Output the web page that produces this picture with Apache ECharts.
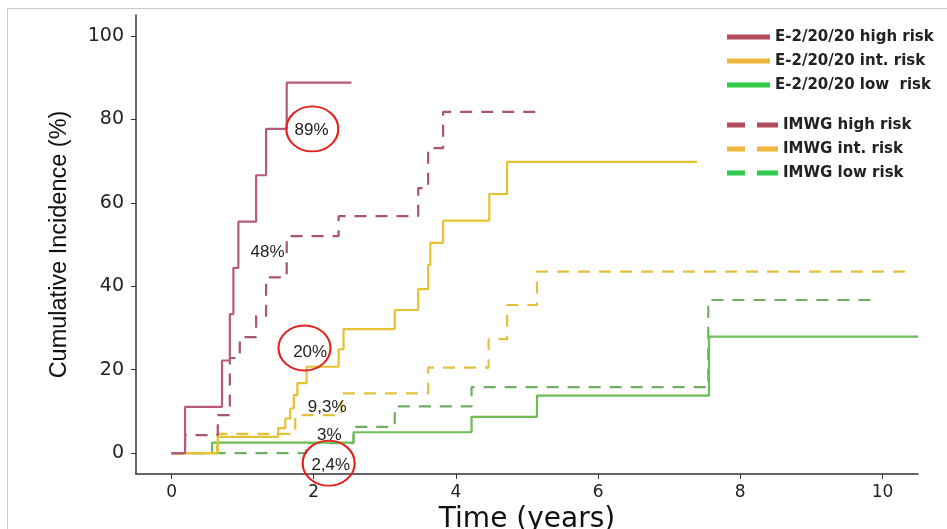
<!DOCTYPE html>
<html><head><meta charset="utf-8">
<script src="https://cdn.jsdelivr.net/npm/echarts@6/dist/echarts.min.js"></script>
<style>html,body{margin:0;padding:0;background:#fff}#c{width:947px;height:529px}</style>
</head><body><div id="c"></div>
<script>
// Axis ticks
const xTicks = [0, 2, 4, 6, 8, 10];
const yTicks = [0, 20, 40, 60, 80, 100];

// Series names
const legendE = ['E-2/20/20 high risk', 'E-2/20/20 int. risk', 'E-2/20/20 low  risk'];
const legendI = ['IMWG high risk', 'IMWG int. risk', 'IMWG low risk'];

// E-2/20/20 high risk (time in years, cumulative incidence %)
const eHighT = [0, 0.19, 0.71, 0.82, 0.87, 0.94, 1.19, 1.33, 1.62, 2.53];
const eHighV = [0, 11.1, 22.2, 33.3, 44.4, 55.5, 66.6, 77.7, 88.8, 88.8];
// IMWG high risk
const iHighT = [0, 0.19, 0.65, 0.82, 0.96, 1.19, 1.33, 1.62, 2.35, 3.47, 3.61, 3.82, 5.14];
const iHighV = [0, 4.3, 9.1, 22.8, 27.8, 32.9, 42.1, 52.0, 56.8, 63.5, 73.1, 81.8, 81.8];
// E-2/20/20 int. risk
const eIntT = [0, 0.65, 1.50, 1.60, 1.67, 1.72, 1.77, 1.90, 2.35, 2.42, 3.14, 3.47, 3.61, 3.64, 3.82, 4.47, 4.72, 7.39];
const eIntV = [0, 3.9, 6.0, 8.3, 10.7, 13.9, 16.8, 20.7, 24.9, 29.7, 34.3, 39.3, 45.1, 50.4, 55.7, 62.1, 69.8, 69.8];
// IMWG int. risk
const iIntT = [0, 0.64, 1.74, 2.39, 3.61, 4.46, 4.72, 5.14, 10.43];
const iIntV = [0, 4.6, 9.1, 14.3, 20.5, 27.3, 35.5, 43.5, 43.5];
// E-2/20/20 low risk
const eLowT = [0, 0.57, 2.56, 4.22, 5.14, 7.56, 10.5];
const eLowV = [0, 2.5, 5.0, 8.7, 13.8, 27.9, 27.9];
// IMWG low risk
const iLowT = [0, 1.89, 2.56, 3.14, 4.22, 7.55, 9.85];
const iLowV = [0, 2.4, 6.3, 11.2, 15.8, 36.7, 36.7];

// Annotations (text at [t, v])
const annoText = ['89%', '48%', '20%', '9,3%', '3%', '2,4%'];
const annoT = [1.97, 1.35, 1.95, 2.19, 2.22, 2.24];
const annoV = [77.3, 48.2, 24.1, 11.1, 4.3, -2.8];
// Red ellipses around some annotations
const circleT = [1.98, 1.87, 2.21];
const circleV = [77.7, 25.2, -2.4];

const zip = (t, v) => t.map((x, i) => [x, v[i]]);

const colHigh = '#b85b78', colInt = '#e6c230', colLow = '#6cbd55';
const colHighD = '#a6566f', colIntD = '#e2c23c', colLowD = '#72ad64';
const dash = [12, 9];

function mkSeries(name, t, v, color, dashed) {
  return {
    type: 'line', name: name, step: 'end', data: zip(t, v),
    showSymbol: false, symbol: 'none',
    lineStyle: { color: color, width: 2.2, type: dashed ? dash : 'solid' },
    itemStyle: { color: color, borderWidth: 0 },
    emphasis: { disabled: true },
    animation: false
  };
}

const series = [
  mkSeries(legendI[2], iLowT, iLowV, colLowD, true),
  mkSeries(legendE[2], eLowT, eLowV, colLow, false),
  mkSeries(legendI[1], iIntT, iIntV, colIntD, true),
  mkSeries(legendE[1], eIntT, eIntV, colInt, false),
  mkSeries(legendI[0], iHighT, iHighV, colHighD, true),
  mkSeries(legendE[0], eHighT, eHighV, colHigh, false)
];

const mp = [];
circleT.forEach((t, i) => mp.push({
  coord: [t, circleV[i]], symbol: 'circle', symbolSize: [52, 45],
  itemStyle: { color: 'rgba(0,0,0,0)', borderColor: '#e2211c', borderWidth: 2 },
  label: { show: false }
}));
annoText.forEach((s, i) => mp.push({
  coord: [annoT[i], annoV[i]], symbol: 'circle', symbolSize: 1,
  itemStyle: { color: 'rgba(0,0,0,0)' },
  label: { show: true, position: 'inside', formatter: s, color: '#1e1e1e',
    fontSize: 17, fontFamily: 'Liberation Sans, Arial, sans-serif' }
}));
series[series.length - 1].markPoint = { data: mp, animation: false, silent: true };

const legColE = ['#b24b5c', '#f0b63a', '#2fcb47'];
const legColI = ['#b24b5c', '#f0b63a', '#2fcb4f'];
const legText = { fontSize: 15, fontWeight: 'bold', fontFamily: 'DejaVu Sans, sans-serif', color: '#222', lineHeight: 16 };

const option = {
  backgroundColor: '#fff',
  animation: false,
  grid: { left: 136, right: 29, top: 15, bottom: 55, containLabel: false, outerBoundsMode: 'none' },
  xAxis: {
    type: 'value', min: -0.5, max: 10.5,
    name: 'Time (years)', nameLocation: 'middle', nameGap: 27,
    nameTextStyle: { fontSize: 28, fontFamily: 'DejaVu Sans, sans-serif', color: '#111' },
    axisLine: { show: true, onZero: false, lineStyle: { color: '#333', width: 1.5 } },
    axisTick: { show: true, length: 5, lineStyle: { color: '#333', width: 1 }, customValues: xTicks },
    axisLabel: { fontSize: 17, fontFamily: 'DejaVu Sans, sans-serif', color: '#222', margin: 10, customValues: xTicks },
    splitLine: { show: false }
  },
  yAxis: {
    type: 'value', min: -5, max: 105,
    name: 'Cumulative Incidence (%)', nameLocation: 'middle', nameGap: 64,
    nameTextStyle: { fontSize: 23.5, fontFamily: 'Liberation Sans, Arial, sans-serif', color: '#111' },
    axisLine: { show: true, onZero: false, lineStyle: { color: '#333', width: 1.5 } },
    axisTick: { show: true, length: 5, lineStyle: { color: '#333', width: 1 }, customValues: yTicks },
    axisLabel: { fontSize: 19, fontFamily: 'DejaVu Sans, sans-serif', color: '#222', margin: 12, customValues: yTicks },
    splitLine: { show: false }
  },
  legend: [
    {
      orient: 'vertical', left: 727, top: 29, itemWidth: 43, itemHeight: 5, itemGap: 8,
      selectedMode: false, textStyle: legText, padding: 0,
      data: legendE.map((n, i) => ({ name: n, icon: 'rect', itemStyle: { color: legColE[i], borderWidth: 0 } }))
    },
    {
      orient: 'vertical', left: 727, top: 117, itemWidth: 51, itemHeight: 5, itemGap: 8,
      selectedMode: false, textStyle: legText, padding: 0,
      data: legendI.map((n, i) => ({ name: n, icon: 'path://M0,0h18v5h-18zM30,0h21v5h-21z', itemStyle: { color: legColI[i], borderWidth: 0 } }))
    }
  ],
  graphic: [{
    type: 'rect', silent: true, z: -10,
    shape: { x: 7.5, y: 8.5, width: 960, height: 560 },
    style: { fill: 'none', stroke: '#c9c9c9', lineWidth: 1 }
  }],
  series: series
};

const chart = echarts.init(document.getElementById('c'), null, { renderer: 'canvas' });
chart.setOption(option);
</script>
</body></html>
